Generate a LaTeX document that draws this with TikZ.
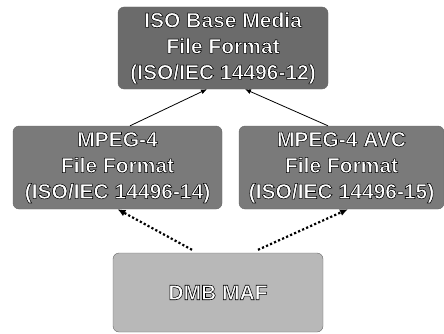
\documentclass[tikz,border=0pt]{standalone}
\usepackage{fontspec}
\setmainfont{Liberation Sans}[BoldFont={Liberation Sans Bold}]
\usetikzlibrary{arrows.meta,positioning}
% white letters with a dark outline
\newcommand{\outlined}[1]{\special{pdf:literal direct 2 Tr 0.55 w 0 G}#1\special{pdf:literal direct 0 Tr}}

\begin{document}
\begin{tikzpicture}[
  x=1pt,y=1pt,
  format/.style={draw=black!60,rounded corners=6pt,fill=black!52,
    align=center,minimum width=209pt,minimum height=83pt,inner sep=2pt,
    text=white,font=\bfseries\fontsize{21}{26}\selectfont},
  arrow/.style={-{Latex[length=6pt,width=5pt]},thick,draw=black},
  dotarrow/.style={-{Latex[length=8pt,width=7pt]},line width=2.2pt,
    dash pattern=on 2.2pt off 2.2pt,draw=black}
]
  \useasboundingbox (0,0) rectangle (444,333);

  \node[format,fill=black!58,minimum width=210pt,minimum height=82pt] (iso) at (223,285)
    {\outlined{ISO Base Media}\\\outlined{File Format}\\\outlined{(ISO/IEC 14496-12)}};
  \node[format] (mp4) at (117.5,165.5)
    {\outlined{MPEG-4}\\\outlined{File Format}\\\outlined{(ISO/IEC 14496-14)}};
  \node[format,minimum width=205pt] (avc) at (341.5,165.5)
    {\outlined{MPEG-4 AVC}\\\outlined{File Format}\\\outlined{(ISO/IEC 14496-15)}};
  \node[format,fill=black!28,minimum width=210pt,minimum height=79pt] (dmb) at (218,40.5)
    {\outlined{DMB MAF}};

  \draw[arrow] ([xshift=12.5pt]mp4.north) -- ([xshift=-16pt]iso.south);
  \draw[arrow] ([xshift=-13.5pt]avc.north) -- ([xshift=22pt]iso.south);
  \draw[dotarrow] ([xshift=-26pt,yshift=3pt]dmb.north) -- (mp4.south);
  \draw[dotarrow] ([xshift=40pt,yshift=3pt]dmb.north) -- ([xshift=6.5pt]avc.south);
\end{tikzpicture}
\end{document}
